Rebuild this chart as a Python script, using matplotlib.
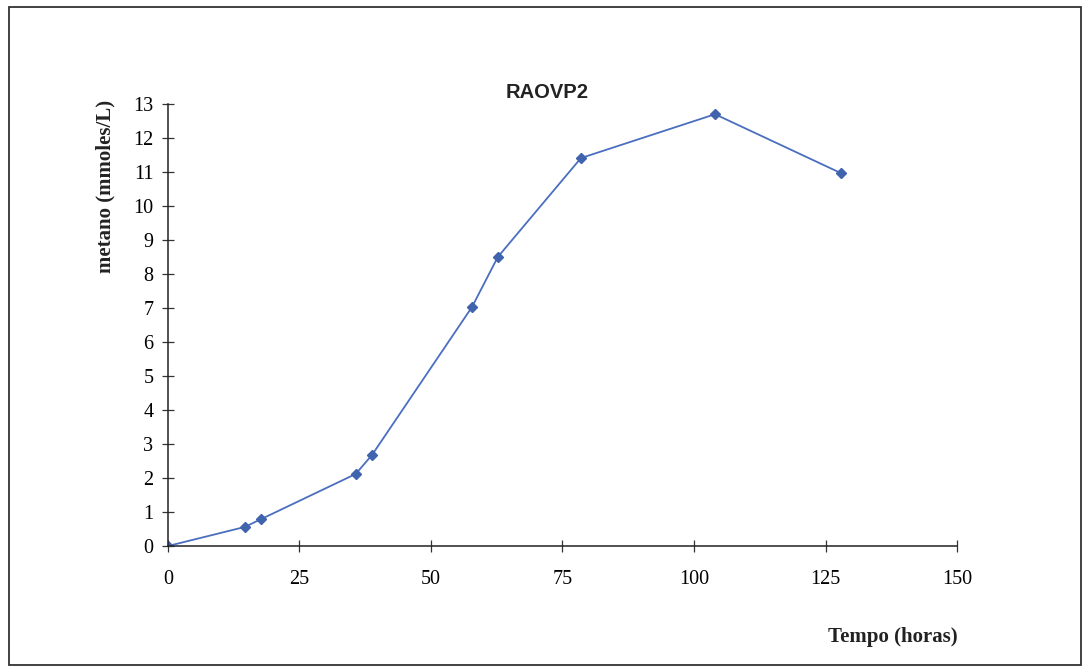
import matplotlib as mpl
mpl.use('Agg')
import matplotlib.pyplot as plt
from matplotlib.patches import Rectangle

# tempo (horas) and metano (mmoles/L)
tempo = [0, 14.6, 17.7, 35.7, 38.8, 57.8, 62.7, 78.5, 104, 127.9]
metano = [0, 0.56, 0.79, 2.12, 2.68, 7.03, 8.5, 11.41, 12.7, 10.97]
xticks = [0, 25, 50, 75, 100, 125, 150]
yticks = list(range(0, 14))

fig = plt.figure(figsize=(10.9, 6.72), dpi=100)
fig.patches.append(Rectangle((0.008, 0.011), 0.984, 0.978, transform=fig.transFigure,
                             fill=False, edgecolor='#333333', linewidth=1.3))

ax = fig.add_axes([0.1541, 0.1875, 0.7239, 0.6577])
ax.plot(tempo, metano, color='#4a6ec0', linewidth=1.3, marker='D',
        markersize=5.5, markerfacecolor='#3f63ad', markeredgecolor='#3f63ad')

ax.set_xlim(0, 150)
ax.set_ylim(0, 13)
ax.set_xticks(xticks)
ax.set_yticks(yticks)
for s in ['top', 'right']:
    ax.spines[s].set_visible(False)
for s in ['left', 'bottom']:
    ax.spines[s].set_color('#222222')
    ax.spines[s].set_linewidth(1.1)
ax.tick_params(direction='inout', length=9, width=0.9, color='#333333',
               labelsize=14.5, pad=6)
for lab in ax.get_xticklabels() + ax.get_yticklabels():
    lab.set_fontfamily('Liberation Serif')
ax.tick_params(axis='x', pad=13)

fig.text(0.097, 0.723, 'metano (mmoles/L)', fontfamily='Liberation Serif', fontweight='bold',
         fontsize=15, rotation=90, ha='center', va='center', color='#222222')
fig.text(0.502, 0.862, 'RAOVP2', fontfamily='Liberation Sans', fontweight='bold',
         fontsize=14.5, ha='center', va='center', color='#222222')
fig.text(0.819, 0.052, 'Tempo (horas)', fontfamily='Liberation Serif', fontweight='bold',
         fontsize=15, ha='center', va='center', color='#222222')

plt.savefig('out.png')
